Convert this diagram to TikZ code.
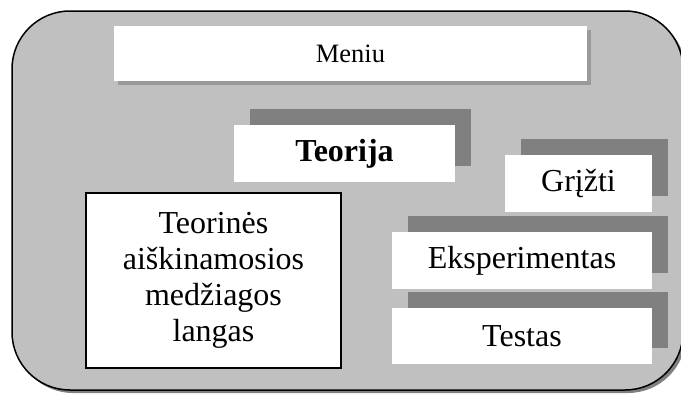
\documentclass[tikz,border=0pt]{standalone}
\usepackage{fontspec}
\setmainfont{Liberation Serif}
\usetikzlibrary{shadows}
\definecolor{panel}{HTML}{C0C0C0}
\definecolor{deepshade}{HTML}{808080}
\definecolor{softshade}{HTML}{9A9A9A}
\begin{document}
\begin{tikzpicture}[x=1pt,y=-1pt,
  frame/.style={draw=black, line width=1.5pt, fill=panel, rounded corners=58pt,
    inner sep=0pt, minimum width=671pt, minimum height=379pt,
    general shadow={fill=deepshade, shadow xshift=3pt, shadow yshift=-3pt}},
  menubar/.style={fill=white, inner sep=0pt, font=\fontsize{26.5}{30}\selectfont,
    general shadow={fill=softshade, shadow xshift=4pt, shadow yshift=-3.5pt}},
  btn/.style={fill=white, inner sep=0pt, font=\fontsize{32}{36}\selectfont,
    general shadow={fill=deepshade, shadow xshift=16pt, shadow yshift=16pt}},
  pane/.style={draw=black, line width=1.5pt, fill=white, inner sep=0pt,
    align=center, font=\fontsize{32}{36}\selectfont}
 ]
\useasboundingbox (0,0) rectangle (681,394);
% window frame
\node[frame] (win) at (347.5,200.5) {};
% top menu bar
\node[menubar, minimum width=473pt, minimum height=55pt] (menu) at (350.5,53.5) {Meniu};
% buttons
\node[btn, minimum width=221pt, minimum height=57pt, font=\fontsize{32}{36}\selectfont\bfseries] (teor) at (344.5,153.5) {Teorija};
\node[btn, minimum width=147pt, minimum height=57pt] (back) at (578.5,183.5) {Grįžti};
\node[btn, minimum width=260pt, minimum height=57pt] (exp) at (522,260.5) {Eksperimentas};
\node[btn, minimum width=260pt, minimum height=56pt] (test) at (522,336) {Testas};
% content pane
\node[pane, minimum width=255pt, minimum height=175pt] (content) at (213.5,280.5)
  {Teorinės\\aiškinamosios\\medžiagos\\langas};
\end{tikzpicture}
\end{document}
